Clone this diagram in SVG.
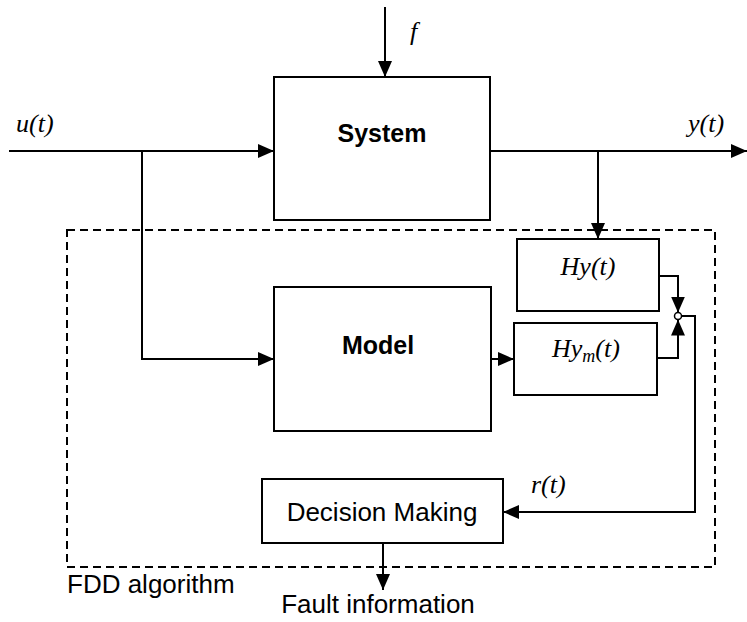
<svg xmlns="http://www.w3.org/2000/svg" width="747" height="622" viewBox="0 0 747 622">
<style>
.box{fill:#fff;stroke:#000;stroke-width:2}
.ln{fill:none;stroke:#000;stroke-width:2}
.arr{fill:none;stroke:#000;stroke-width:2;marker-end:url(#ah)}
.dash{fill:none;stroke:#000;stroke-width:2;stroke-dasharray:8 5}
.bold{font-family:"Liberation Sans",Arial,sans-serif;font-weight:bold;font-size:25px}
.sans{font-family:"Liberation Sans",Arial,sans-serif;font-size:26px}
.it{font-family:"Liberation Serif","Times New Roman",serif;font-style:italic;font-size:26px}
</style>
<defs>
<marker id="ah" markerUnits="userSpaceOnUse" markerWidth="16" markerHeight="14" refX="16" refY="7" orient="auto">
<path d="M0,0 L16,7 L0,14 z" fill="#000"/>
</marker>
</defs>
<rect class="dash" x="67" y="230" width="648" height="337"/>
<g id="connectors">
<path class="arr" d="M385,7 V77"/>
<path class="arr" d="M9,151 H274"/>
<path class="arr" d="M142,151 V359 H274"/>
<path class="arr" d="M490,151 H747"/>
<path class="arr" d="M598,151 V239"/>
<path class="arr" d="M491,359 H514"/>
<path class="arr" d="M659,276 H678 V312.5"/>
<path class="arr" d="M657,358 H678 V319.5"/>
<path class="arr" d="M681.5,316 H695 V512 H503"/>
<path class="arr" d="M383,543 V590"/>
<circle cx="678" cy="316" r="3.5" fill="#fff" stroke="#000" stroke-width="1.5"/>
</g>
<g id="system">
<rect class="box" x="274" y="77" width="216" height="143"/>
<text class="bold" x="382" y="142" text-anchor="middle">System</text>
</g>
<g id="model">
<rect class="box" x="274" y="287" width="217" height="144"/>
<text class="bold" x="378" y="354" text-anchor="middle">Model</text>
</g>
<g id="hy">
<rect class="box" x="517" y="239" width="142" height="72"/>
<text class="it" x="588" y="275" text-anchor="middle">Hy(t)</text>
</g>
<g id="hym">
<rect class="box" x="514" y="323" width="143" height="72"/>
<text class="it" x="552" y="357">Hy<tspan font-size="18" dy="5">m</tspan><tspan dy="-5">(t)</tspan></text>
</g>
<g id="decision">
<rect class="box" x="262" y="479" width="241" height="64"/>
<text class="sans" x="382" y="521" text-anchor="middle">Decision Making</text>
</g>
<g id="labels">
<text class="it" x="16" y="132">u(t)</text>
<text class="it" x="688" y="132">y(t)</text>
<text class="it" x="410" y="40">f</text>
<text class="it" x="531" y="493">r(t)</text>
<text class="sans" x="67" y="593">FDD algorithm</text>
<text class="sans" x="378" y="613" text-anchor="middle">Fault information</text>
</g>
</svg>
